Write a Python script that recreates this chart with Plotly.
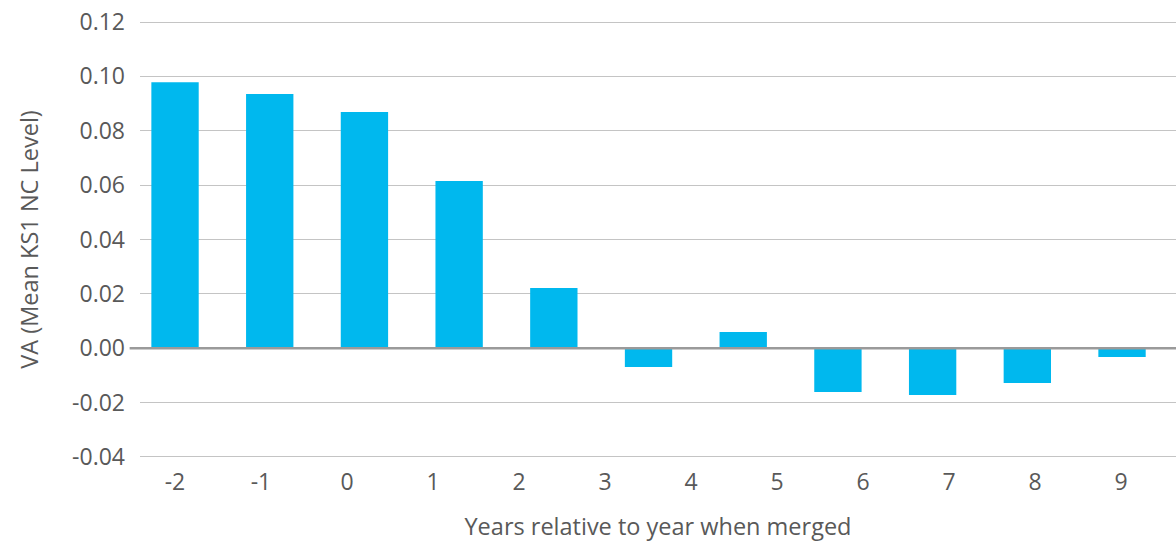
import plotly.graph_objects as go

years_bars = ["-2", "-1", "0", "1", "2", "3", "4", "5", "6", "7", "8"]
va_values = [0.0979, 0.0935, 0.0869, 0.0615, 0.0222, -0.0069, 0.0060, -0.0161, -0.0172, -0.0128, -0.0032]
axis_labels = ["-2", "-1", "0", "1", "2", "3", "4", "5", "6", "7", "8", "9"]
y_ticks = [-0.04, -0.02, 0.00, 0.02, 0.04, 0.06, 0.08, 0.10, 0.12]
y_tick_text = ["-0.04", "-0.02", "0.00", "0.02", "0.04", "0.06", "0.08", "0.10", "0.12"]

BAR = "#00B8EE"
TXT = "#595959"
FONT = "'Open Sans', Lato, sans-serif"
FS = 23
FT = 23.5

fig = go.Figure()
fig.add_trace(go.Bar(x=years_bars, y=va_values, marker=dict(color=BAR, line=dict(width=0)),
                     width=0.5, xaxis="x", yaxis="y", showlegend=False, hoverinfo="x+y"))
fig.add_trace(go.Scatter(x=axis_labels, y=[None] * len(axis_labels), xaxis="x2", yaxis="y",
                         mode="markers", showlegend=False, hoverinfo="skip"))

fig.add_shape(type="line", xref="paper", yref="y", x0=-0.01, x1=1, y0=0, y1=0,
              line=dict(color="#9a9a9a", width=2.5), layer="above")

fig.update_layout(
    width=1176, height=543,
    margin=dict(l=140, r=0, t=18, b=82, autoexpand=False),
    paper_bgcolor="white", plot_bgcolor="white",
    font=dict(family=FONT, color=TXT, size=FS),
    xaxis=dict(type="category", range=[-0.37, 10.57], showticklabels=False, showgrid=False,
               zeroline=False, showline=False, ticks=""),
    xaxis2=dict(type="category", range=[-0.407, 11.64], overlaying="x", side="bottom",
                anchor="y", showgrid=False, zeroline=False, showline=False, ticks="",
                tickfont=dict(size=FS, color=TXT), ticklabelstandoff=5,
                title=dict(text="Years relative to year when merged", font=dict(size=FT, color=TXT),
                           standoff=22)),
    yaxis=dict(range=[-0.0415, 0.1215], tickvals=y_ticks, ticktext=y_tick_text,
               showgrid=True, gridcolor="#c4c4c4", gridwidth=1.2, zeroline=False,
               showline=False, ticks="", ticklabelstandoff=14, ticklabeloverflow="allow",
               tickfont=dict(size=FS, color=TXT),
               title=dict(text="VA (Mean KS1 NC Level)", font=dict(size=FT, color=TXT), standoff=26)),
)

fig.write_html("out.html", config={"displayModeBar": False},
               post_script="document.body.style.margin='0';document.body.style.overflow='hidden';")
